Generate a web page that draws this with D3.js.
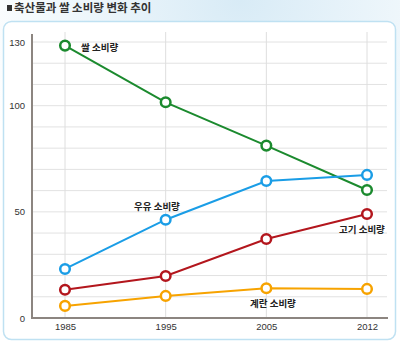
<!DOCTYPE html>
<html><head><meta charset="utf-8">
<script src="https://cdn.jsdelivr.net/npm/d3@7"></script>
<style>
html,body{margin:0;padding:0;background:#fff;}
svg{display:block;font-family:"Noto Sans CJK KR","Noto Sans",sans-serif;}
</style></head>
<body>
<svg id="chart" width="400" height="343"></svg>
<script>
const years = ["1985", "1995", "2005", "2012"];
const rice = [128.3, 101.6, 81.2, 60.3];
const milk = [23.1, 46.3, 64.5, 67.4];
const meat = [13.3, 19.8, 37.2, 49.0];
const egg = [5.7, 10.4, 14.0, 13.7];
const yTicks = [0, 50, 100, 130];
const seriesNames = ["쌀 소비량", "우유 소비량", "고기 소비량", "계란 소비량"];
const title = "축산물과 쌀 소비량 변화 추이";

const series = [
  {name: seriesNames[0], values: rice, color: "#1b8a2e", lx: 81, ly: 48},
  {name: seriesNames[1], values: milk, color: "#1a9de6", lx: 134, ly: 207},
  {name: seriesNames[2], values: meat, color: "#b3161d", lx: 339, ly: 230},
  {name: seriesNames[3], values: egg, color: "#f7a300", lx: 250, ly: 304}
];

const svg = d3.select("#chart");
const defs = svg.append("defs");
const g1 = defs.append("radialGradient").attr("id","wc").attr("cx","0.6").attr("cy","0").attr("r","0.7");
g1.append("stop").attr("offset","0").attr("stop-color","#d8ebf6");
g1.append("stop").attr("offset","1").attr("stop-color","#ffffff");
svg.append("rect").attr("x",0).attr("y",0).attr("width",400).attr("height",343).attr("fill","url(#wc)");

// panel
svg.append("rect").attr("x",3.5).attr("y",21.5).attr("width",392).attr("height",318)
  .attr("rx",8).attr("fill","#fff").attr("stroke","#bfe1f2").attr("stroke-width",1.5);

// title
svg.append("rect").attr("x",7).attr("y",5).attr("width",5).attr("height",6).attr("fill","#333");
svg.append("text").attr("x",14).attr("y",8).attr("dy","0.38em").attr("font-size",11.5).attr("font-weight","bold")
  .attr("fill","#333").text(title);

const x = d3.scalePoint().domain(years).range([65, 367]);
const y = d3.scaleLinear().domain([0, 130]).range([318, 42]);

// horizontal grid
const gridVals = d3.range(10, 131, 10);
svg.append("g").selectAll("line").data(gridVals).join("line")
  .attr("x1",33).attr("x2",387).attr("y1",d=>y(d)).attr("y2",d=>y(d))
  .attr("stroke","#e2e2e2").attr("stroke-width",1);
// vertical grid
svg.append("g").selectAll("line").data(years).join("line")
  .attr("x1",d=>x(d)).attr("x2",d=>x(d)).attr("y1",32).attr("y2",318)
  .attr("stroke","#dedede").attr("stroke-width",1);

// axes
const yAxis = d3.axisLeft(y).tickValues(yTicks).tickSize(0).tickPadding(7);
const gy = svg.append("g").attr("transform","translate(32,0)").call(yAxis);
gy.select(".domain").remove();
gy.selectAll("text").attr("font-size",9.5).attr("fill","#333").attr("font-family","Liberation Sans, Arial, sans-serif");
svg.append("line").attr("x1",32).attr("x2",32).attr("y1",34).attr("y2",319)
  .attr("stroke","#8c8580").attr("stroke-width",2);

const xAxis = d3.axisBottom(x).tickSize(0).tickPadding(5);
const gx = svg.append("g").attr("transform","translate(0,318)").call(xAxis);
gx.select(".domain").remove();
gx.selectAll("text").attr("font-size",9.5).attr("fill","#333").attr("font-family","Liberation Sans, Arial, sans-serif");
svg.append("line").attr("x1",31).attr("x2",388).attr("y1",318).attr("y2",318)
  .attr("stroke","#8c8580").attr("stroke-width",2);

const line = d3.line().x((d,i)=>x(years[i])).y(d=>y(d));
series.forEach(s=>{
  svg.append("path").datum(s.values).attr("d",line).attr("fill","none")
    .attr("stroke",s.color).attr("stroke-width",2);
  svg.append("g").selectAll("circle").data(s.values).join("circle")
    .attr("cx",(d,i)=>x(years[i])).attr("cy",d=>y(d)).attr("r",4.8)
    .attr("fill","#fff").attr("stroke",s.color).attr("stroke-width",2.5);
  svg.append("text").attr("x",s.lx).attr("y",s.ly).attr("dy","0.35em")
    .attr("font-size",9.5).attr("font-weight","bold").attr("fill","#222").text(s.name);
});
</script>
</body></html>
